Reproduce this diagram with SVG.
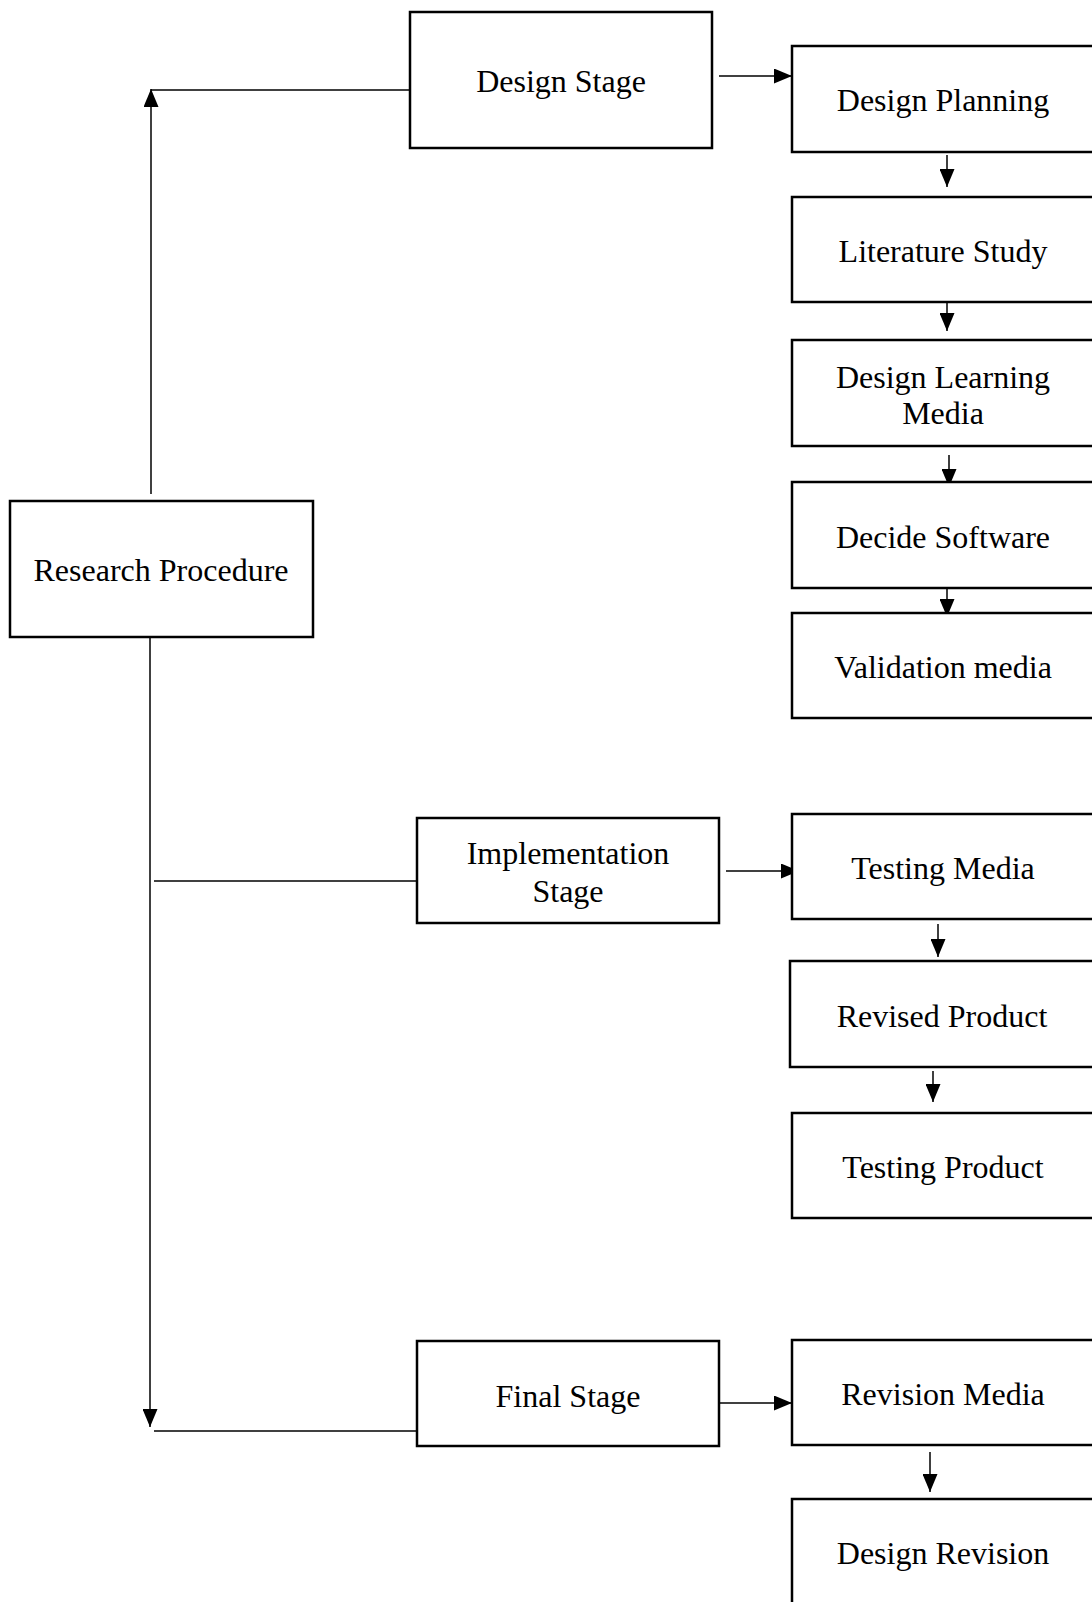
<svg xmlns="http://www.w3.org/2000/svg" width="1092" height="1602" viewBox="0 0 1092 1602">
<style>
.box{fill:#fff;stroke:#000;stroke-width:2.5}
.t{font-family:"Liberation Serif","Times New Roman",serif;font-size:32px;fill:#000;text-anchor:middle;dominant-baseline:central}
.c{fill:none;stroke:#000;stroke-width:1.5}
.a{marker-end:url(#ah)}
</style>
<defs>
<marker id="ah" markerUnits="userSpaceOnUse" markerWidth="18" markerHeight="15" refX="18" refY="7.5" orient="auto" viewBox="0 0 18 15">
<path d="M0,0 L18,7.5 L0,15 z" fill="#000"/>
</marker>
</defs>
<rect width="1092" height="1602" fill="#fff"/>
<g id="connectors">
<line class="c a" x1="151" y1="494" x2="151" y2="89"/>
<line class="c" x1="151" y1="90" x2="410" y2="90"/>
<line class="c a" x1="150" y1="638" x2="150" y2="1427"/>
<line class="c" x1="154" y1="1431" x2="417" y2="1431"/>
<line class="c" x1="154" y1="881" x2="417" y2="881"/>
<line class="c a" x1="719" y1="76" x2="792" y2="76"/>
<line class="c a" x1="947" y1="155" x2="947" y2="187"/>
<line class="c a" x1="947" y1="299" x2="947" y2="331"/>
<line class="c a" x1="949" y1="455" x2="949" y2="487"/>
<line class="c a" x1="947" y1="584" x2="947" y2="617"/>
<line class="c a" x1="726" y1="871" x2="799" y2="871"/>
<line class="c a" x1="938" y1="924" x2="938" y2="957"/>
<line class="c a" x1="933" y1="1071" x2="933" y2="1102"/>
<line class="c a" x1="719" y1="1403" x2="792" y2="1403"/>
<line class="c a" x1="930" y1="1452" x2="930" y2="1492"/>
</g>
<g id="research-procedure"><rect class="box" x="10" y="501" width="303" height="136"/><text class="t" x="161" y="570">Research Procedure</text></g>
<g id="design-stage"><rect class="box" x="410" y="12" width="302" height="136"/><text class="t" x="561" y="81">Design Stage</text></g>
<g id="implementation-stage"><rect class="box" x="417" y="818" width="302" height="105"/><text class="t" x="568" y="853">Implementation</text><text class="t" x="568" y="891">Stage</text></g>
<g id="final-stage"><rect class="box" x="417" y="1341" width="302" height="105"/><text class="t" x="568" y="1396">Final Stage</text></g>
<g id="design-planning"><rect class="box" x="792" y="46" width="320" height="106"/><text class="t" x="943" y="100">Design Planning</text></g>
<g id="literature-study"><rect class="box" x="792" y="197" width="320" height="105"/><text class="t" x="943" y="251">Literature Study</text></g>
<g id="design-learning-media"><rect class="box" x="792" y="340" width="320" height="106"/><text class="t" x="943" y="377">Design Learning</text><text class="t" x="943" y="413">Media</text></g>
<g id="decide-software"><rect class="box" x="792" y="482" width="320" height="106"/><text class="t" x="943" y="537">Decide Software</text></g>
<g id="validation-media"><rect class="box" x="792" y="613" width="320" height="105"/><text class="t" x="943" y="667">Validation media</text></g>
<g id="testing-media"><rect class="box" x="792" y="814" width="320" height="105"/><text class="t" x="943" y="868">Testing Media</text></g>
<g id="revised-product"><rect class="box" x="790" y="961" width="322" height="106"/><text class="t" x="942" y="1016">Revised Product</text></g>
<g id="testing-product"><rect class="box" x="792" y="1113" width="320" height="105"/><text class="t" x="943" y="1167">Testing Product</text></g>
<g id="revision-media"><rect class="box" x="792" y="1340" width="320" height="105"/><text class="t" x="943" y="1394">Revision Media</text></g>
<g id="design-revision"><rect class="box" x="792" y="1499" width="320" height="120"/><text class="t" x="943" y="1553">Design Revision</text></g>
</svg>
